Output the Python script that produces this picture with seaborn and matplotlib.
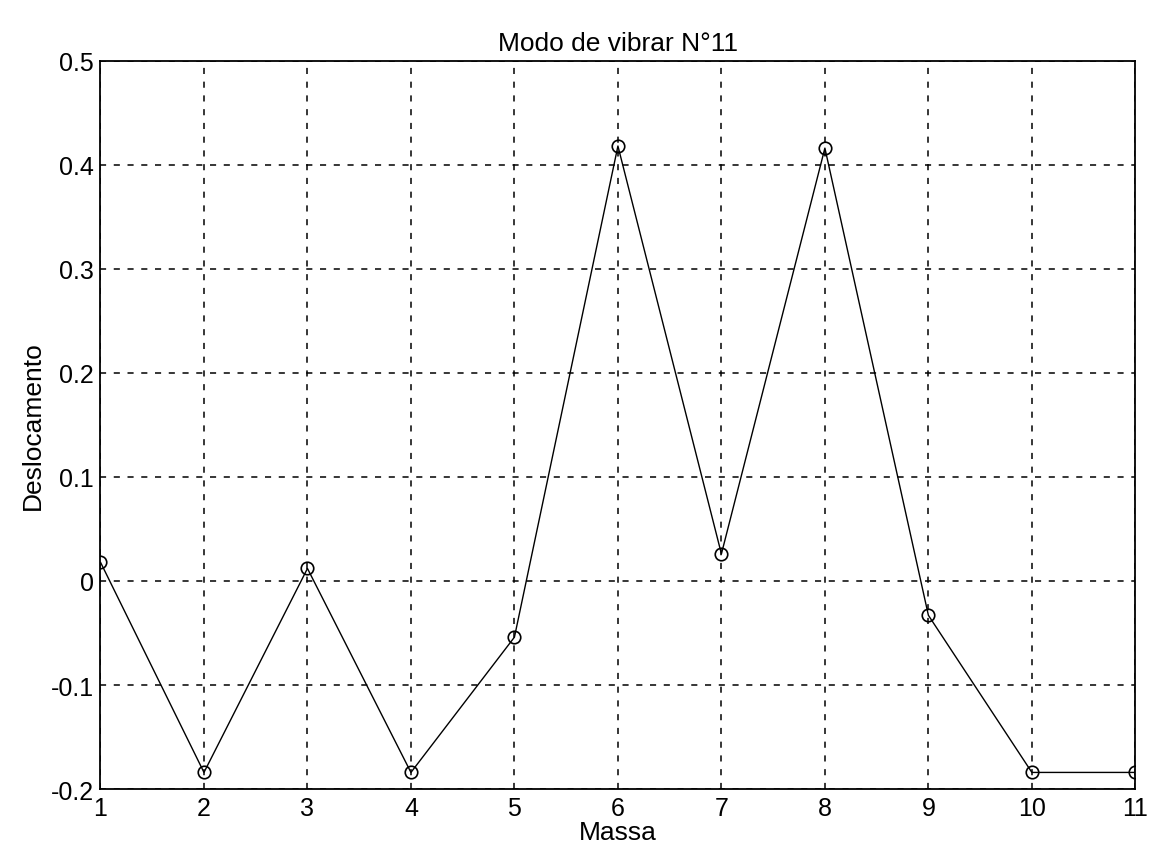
import matplotlib
matplotlib.use("Agg")
import matplotlib.pyplot as plt
import seaborn as sns
import pandas as pd

# Modal shape values for each mass
massa = [1, 2, 3, 4, 5, 6, 7, 8, 9, 10, 11]
deslocamento = [0.018, -0.184, 0.012, -0.184, -0.054, 0.418, 0.026, 0.416, -0.033, -0.184, -0.184]
x_ticks = [1, 2, 3, 4, 5, 6, 7, 8, 9, 10, 11]
y_ticks = [-0.2, -0.1, 0, 0.1, 0.2, 0.3, 0.4, 0.5]
y_tick_labels = ["-0.2", "-0.1", "0", "0.1", "0.2", "0.3", "0.4", "0.5"]

df = pd.DataFrame({"Massa": massa, "Deslocamento": deslocamento})

sns.set_theme(style="white")
plt.rcParams["font.family"] = ["Liberation Sans", "DejaVu Sans"]
plt.rcParams["text.color"] = "black"
plt.rcParams["axes.labelcolor"] = "black"

fig = plt.figure(figsize=(11.55, 8.45), dpi=100)
ax = fig.add_axes([0.087, 0.065, 0.896, 0.862])

sns.lineplot(data=df, x="Massa", y="Deslocamento", ax=ax, color="black",
             linewidth=1.0, marker="o", markersize=9, markerfacecolor="none",
             markeredgecolor="black", markeredgewidth=1.2)

ax.set_xlim(1, 11)
ax.set_ylim(-0.2, 0.5)
ax.set_xticks(x_ticks)
ax.set_yticks(y_ticks)
ax.set_yticklabels(y_tick_labels)

ax.grid(True, color="black", linestyle=(0, (4, 5)), linewidth=1.1)
for s in ax.spines.values():
    s.set_color("black")
    s.set_linewidth(1.3)

ax.tick_params(axis="both", direction="in", length=6, width=1.0, colors="black",
               labelsize=18, pad=5, top=False, right=False)
ax.set_title("Modo de vibrar N°11", fontsize=19, pad=8, color="black")
ax.set_xlabel("Massa", fontsize=19, labelpad=0, color="black")
ax.set_ylabel("Deslocamento", fontsize=19, labelpad=4, color="black")

fig.savefig("out.png", dpi=100, facecolor="white")
